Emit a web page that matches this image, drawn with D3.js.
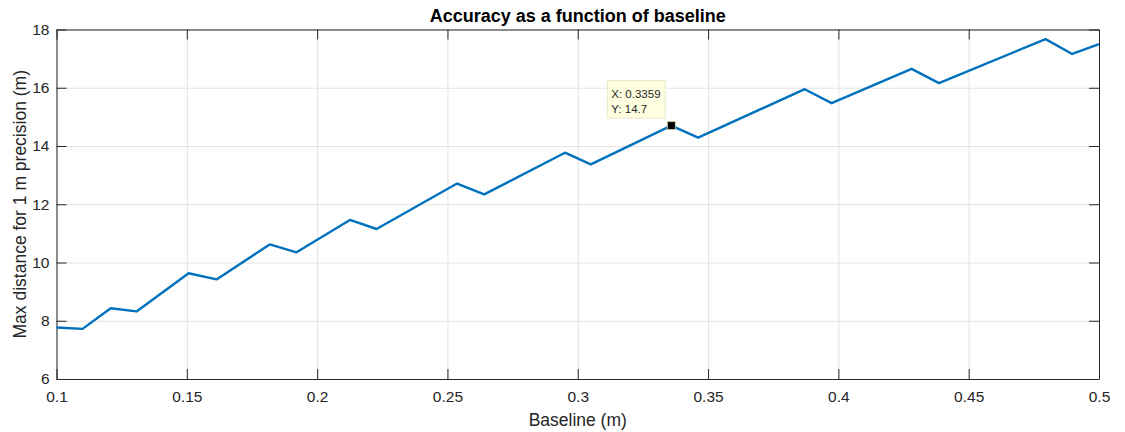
<!DOCTYPE html>
<html>
<head>
<meta charset="utf-8">
<script src="https://cdn.jsdelivr.net/npm/d3@7"></script>
<style>
  body { margin: 0; background: #fff; }
  svg { font-family: "Liberation Sans", Arial, Helvetica, sans-serif; }
</style>
</head>
<body>
<svg id="chart"></svg>
<script>
// vertices of the curve
const baseline = [0.1, 0.110, 0.1208, 0.1307, 0.1507, 0.1614, 0.1818, 0.1921, 0.2126, 0.2228,
    0.2537, 0.2641, 0.2951, 0.3050, 0.3359, 0.3462, 0.3871, 0.3974, 0.4281, 0.4386,
    0.4795, 0.4897, 0.5];
const maxDistance = [7.77, 7.72, 8.43, 8.32, 9.63, 9.42, 10.62, 10.35, 11.46, 11.15,
    12.71, 12.34, 13.77, 13.37, 14.7, 14.29, 15.95, 15.47, 16.65, 16.16,
    17.67, 17.16, 17.50];
const xTicks = [0.1, 0.15, 0.2, 0.25, 0.3, 0.35, 0.4, 0.45, 0.5];
const yTicks = [6, 8, 10, 12, 14, 16, 18];
const tip = { x: 0.3359, y: 14.7 };

const W = 1125, H = 432;
const margin = { top: 29.5, right: 26, bottom: 53, left: 56.5 };
const width = W - margin.left - margin.right;
const height = H - margin.top - margin.bottom;
const axisColor = "#262626";

const svg = d3.select("#chart").attr("width", W).attr("height", H);
const g = svg.append("g").attr("transform", `translate(${margin.left},${margin.top})`);

const x = d3.scaleLinear().domain([0.1, 0.5]).range([0, width]);
const y = d3.scaleLinear().domain([6, 18]).range([height, 0]);

// grid
g.append("g")
    .attr("transform", `translate(0,${height})`)
    .call(d3.axisBottom(x).tickValues(xTicks).tickSize(-height).tickFormat(""))
    .call(a => a.select(".domain").remove())
    .selectAll("line").attr("stroke", "#e3e3e3");
g.append("g")
    .call(d3.axisLeft(y).tickValues(yTicks).tickSize(-width).tickFormat(""))
    .call(a => a.select(".domain").remove())
    .selectAll("line").attr("stroke", "#e3e3e3");

// box axes, ticks pointing inward
function styleAxis(a) {
    a.select(".domain").attr("stroke", axisColor).attr("stroke-width", 1);
    a.selectAll(".tick line").attr("stroke", axisColor);
    a.selectAll(".tick text").attr("fill", axisColor).style("font-size", "15.5px");
}
g.append("g")
    .attr("transform", `translate(0,${height})`)
    .call(d3.axisBottom(x).tickValues(xTicks).tickSizeInner(-10).tickSizeOuter(0).tickPadding(12).tickFormat(d3.format("")))
    .call(styleAxis);
g.append("g")
    .call(d3.axisLeft(y).tickValues(yTicks).tickSizeInner(-10).tickSizeOuter(0).tickPadding(7))
    .call(styleAxis);
g.append("g")
    .call(d3.axisTop(x).tickValues(xTicks).tickSizeInner(-10).tickSizeOuter(0).tickFormat(""))
    .call(styleAxis);
g.append("g")
    .attr("transform", `translate(${width},0)`)
    .call(d3.axisRight(y).tickValues(yTicks).tickSizeInner(-10).tickSizeOuter(0).tickFormat(""))
    .call(styleAxis);

// the curve
const points = baseline.map((b, i) => ({ x: b, y: maxDistance[i] }));
g.append("path")
    .datum(points)
    .attr("fill", "none")
    .attr("stroke", "#0072BD")
    .attr("stroke-width", 2.4)
    .attr("stroke-linejoin", "round")
    .attr("d", d3.line().x(d => x(d.x)).y(d => y(d.y)));

// data tip
const tx = x(tip.x), ty = y(tip.y);
const tipBox = g.append("g").attr("transform", `translate(${tx - 64},${ty - 45})`);
tipBox.append("rect")
    .attr("width", 58).attr("height", 37.5)
    .attr("fill", "#ffffe1").attr("stroke", "#e8e8c8");
tipBox.append("text").attr("x", 4).attr("y", 17)
    .attr("fill", axisColor).style("font-size", "11.5px")
    .text("X: " + tip.x);
tipBox.append("text").attr("x", 4).attr("y", 32)
    .attr("fill", axisColor).style("font-size", "11.5px")
    .text("Y: " + tip.y);
g.append("rect")
    .attr("x", tx - 4).attr("y", ty - 4)
    .attr("width", 8).attr("height", 8)
    .attr("fill", "#000").attr("stroke", "#d8d8b0").attr("stroke-width", 0.8);

// labels
svg.append("text")
    .attr("x", margin.left + width / 2).attr("y", 22)
    .attr("text-anchor", "middle")
    .attr("font-weight", "bold")
    .style("font-size", "18px")
    .attr("fill", "#000")
    .text("Accuracy as a function of baseline");

svg.append("text")
    .attr("x", margin.left + width / 2).attr("y", 426)
    .attr("text-anchor", "middle")
    .style("font-size", "17.5px")
    .attr("fill", axisColor)
    .text("Baseline (m)");

svg.append("text")
    .attr("transform", `translate(26,${margin.top + height / 2}) rotate(-90)`)
    .attr("text-anchor", "middle")
    .style("font-size", "17.5px")
    .attr("fill", axisColor)
    .text("Max distance for 1 m precision (m)");
</script>
</body>
</html>
